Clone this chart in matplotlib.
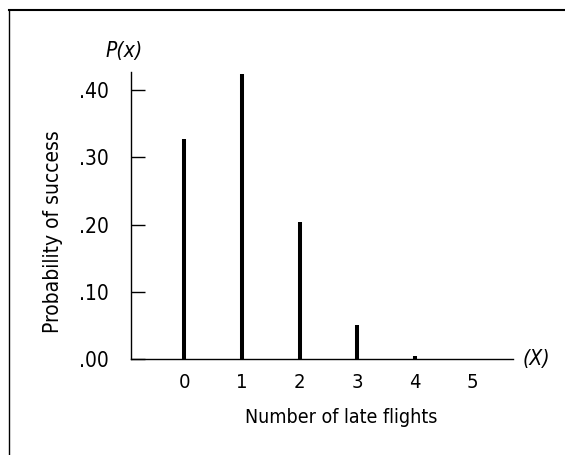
import matplotlib.pyplot as plt
from matplotlib.lines import Line2D
from matplotlib.ticker import FuncFormatter

# values
late_flights = [0, 1, 2, 3, 4, 5]
prob = [0.327, 0.424, 0.204, 0.050, 0.004, 0.0]
yticks = [0.0, 0.1, 0.2, 0.3, 0.4]

plt.rcParams["font.family"] = ["DejaVu Sans"]
plt.rcParams["font.stretch"] = "condensed"

fig = plt.figure(figsize=(5.65, 4.55), dpi=100)
ax = fig.add_axes([0.232, 0.211, 0.676, 0.631])

ax.vlines(late_flights, 0, prob, colors="black", linewidth=2.9)

ax.set_xlim(-0.92, 5.70)
ax.set_ylim(0, 0.427)
ax.set_xticks(late_flights)
ax.set_yticks(yticks)
ax.yaxis.set_major_formatter(FuncFormatter(lambda v, pos: ("%.2f" % v)[1:]))

for side in ["top", "right"]:
    ax.spines[side].set_visible(False)
ax.spines["left"].set_linewidth(1.0)
ax.spines["bottom"].set_linewidth(1.0)

ax.tick_params(axis="y", direction="in", length=10, width=1.0, pad=16, labelsize=15)
ax.tick_params(axis="x", length=0, pad=10, labelsize=14.5)

ax.set_ylabel("Probability of success", fontsize=15)
ax.yaxis.set_label_coords(-0.178, 0.442)
ax.set_xlabel("Number of late flights", fontsize=14, va="top")
ax.xaxis.set_label_coords(0.55, -0.172)

ax.text(-0.018, 1.073, "P(x)", transform=ax.transAxes, fontsize=15,
        style="italic", ha="center", va="center")
ax.text(1.06, 0.0, "(X)", transform=ax.transAxes, fontsize=15,
        style="italic", ha="center", va="center")

# frame lines of the scanned figure box
fig.add_artist(Line2D([9 / 565, 9 / 565], [0, 1 - 10 / 455], color="black", lw=1.0))
fig.add_artist(Line2D([9 / 565, 1], [1 - 10 / 455, 1 - 10 / 455], color="black", lw=1.5))

fig.savefig("out.png", dpi=100)
